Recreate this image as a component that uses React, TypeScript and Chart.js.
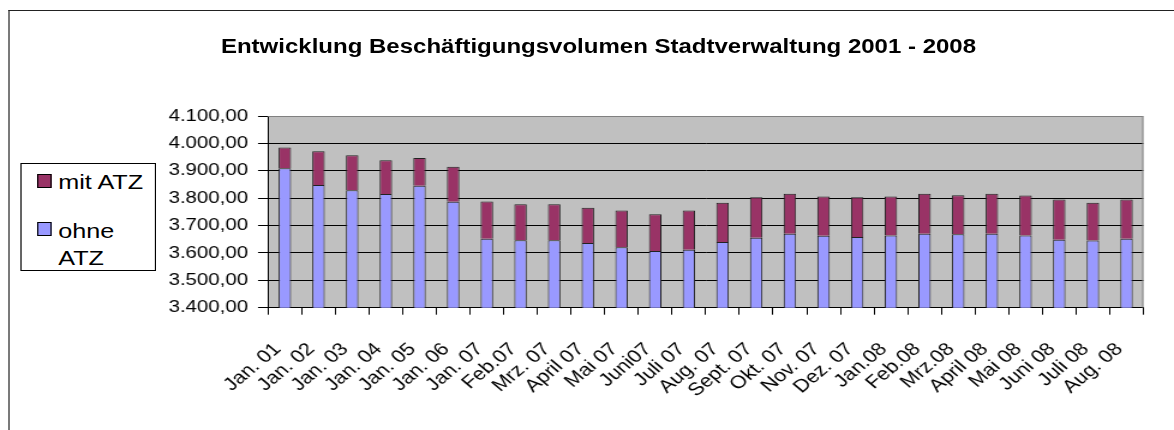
import React, { useEffect, useRef } from "react";
import { Chart, registerables } from "chart.js";

Chart.register(...registerables);

const categories = [
  "Jan. 01", "Jan. 02", "Jan. 03", "Jan. 04", "Jan. 05", "Jan. 06", "Jan. 07",
  "Feb.07", "Mrz. 07", "April 07", "Mai 07", "Juni07", "Juli 07", "Aug. 07",
  "Sept. 07", "Okt. 07", "Nov. 07", "Dez. 07", "Jan.08", "Feb.08", "Mrz.08",
  "April 08", "Mai 08", "Juni 08", "Juli 08", "Aug. 08",
];

const ohneATZ = [
  3909, 3848, 3829, 3815, 3845, 3787, 3652, 3646, 3646, 3636, 3621, 3607, 3612,
  3640, 3655, 3670, 3663, 3658, 3664, 3670, 3668, 3670, 3664, 3648, 3645, 3652,
];

const mitATZ = [
  76, 123, 128, 123, 102, 128, 136, 132, 132, 129, 134, 134, 143,
  143, 148, 146, 143, 145, 142, 146, 143, 146, 146, 147, 138, 143,
];

const yMin = 3400;
const yMax = 4100;
const yStep = 100;

const titleText = "Entwicklung Beschäftigungsvolumen Stadtverwaltung 2001 - 2008";

const FONT = "'Liberation Sans', Arial, sans-serif";

// The original picture is horizontally stretched; reproduce that with a scaleX wrapper.
const PAGE_W = 1174;
const PAGE_H = 430;
const W = 978;
const S = PAGE_W / W;
const px = (v: number) => v / S; // page x -> inner x

function fmt(v: number): string {
  const fixed = v.toFixed(2);
  const [intPart, dec] = fixed.split(".");
  const withDots = intPart.replace(/\B(?=(\d{3})+(?!\d))/g, ".");
  return withDots + "," + dec;
}

const plotBg = {
  id: "plotBg",
  beforeDraw(chart: any) {
    const { ctx, chartArea } = chart;
    ctx.save();
    ctx.fillStyle = "#C0C0C0";
    ctx.fillRect(chartArea.left, chartArea.top, chartArea.right - chartArea.left, chartArea.bottom - chartArea.top);
    ctx.restore();
  },
  beforeDatasetsDraw(chart: any) {
    const { ctx, chartArea } = chart;
    ctx.save();
    ctx.strokeStyle = "#808080";
    ctx.lineWidth = 1;
    ctx.beginPath();
    ctx.moveTo(chartArea.left, chartArea.top + 0.5);
    ctx.lineTo(chartArea.right - 0.5, chartArea.top + 0.5);
    ctx.lineTo(chartArea.right - 0.5, chartArea.bottom);
    ctx.stroke();
    ctx.restore();
  },
};

export default function App() {
  const canvasRef = useRef<HTMLCanvasElement | null>(null);

  useEffect(() => {
    if (!canvasRef.current) return;
    const chart = new Chart(canvasRef.current, {
      type: "bar",
      data: {
        labels: categories,
        datasets: [
          {
            label: "ohne ATZ",
            data: ohneATZ,
            backgroundColor: "#9999FF",
            borderColor: "#222222",
            borderWidth: 1,
            barPercentage: 0.37,
            categoryPercentage: 1,
            stack: "s",
          },
          {
            label: "mit ATZ",
            data: mitATZ,
            backgroundColor: "#993366",
            borderColor: "#222222",
            borderWidth: 1,
            barPercentage: 0.37,
            categoryPercentage: 1,
            stack: "s",
          },
        ],
      },
      options: {
        animation: false,
        responsive: false,
        maintainAspectRatio: false,
        layout: { padding: { left: 0, right: W - px(1158), top: 116, bottom: 0 } },
        plugins: {
          legend: { display: false },
          title: { display: false },
          tooltip: { enabled: false },
        },
        scales: {
          x: {
            stacked: true,
            grid: {
              display: true,
              drawOnChartArea: false,
              offset: true,
              tickLength: 7,
              color: "#000",
              tickColor: "#000",
            },
            border: { display: true, color: "#000", width: 1 },
            ticks: {
              minRotation: 45,
              maxRotation: 45,
              autoSkip: false,
              padding: 24,
              labelOffset: -6,
              color: "#000",
              font: { family: FONT, size: 18 },
            },
            afterFit(scale: any) {
              scale.height = PAGE_H - 307.7;
            },
          },
          y: {
            stacked: true,
            min: yMin,
            max: yMax,
            grid: {
              color: (ctx: any) => (ctx.tick && ctx.tick.value === yMax ? "#808080" : "#000"),
              tickColor: "#000",
              tickLength: px(10),
              lineWidth: 1,
            },
            border: { display: true, color: "#000", width: 1 },
            ticks: {
              stepSize: yStep,
              padding: px(10),
              color: "#000",
              font: { family: FONT, size: 17 },
              callback: (v: any) => fmt(Number(v)),
            },
            afterFit(scale: any) {
              scale.width = px(268);
            },
          },
        },
      },
      plugins: [plotBg],
    });
    return () => chart.destroy();
  }, []);

  return (
    <div style={{ position: "fixed", left: 0, top: 0, width: PAGE_W, height: PAGE_H, background: "#fff", overflow: "hidden" }}>
      <div
        style={{
          position: "absolute",
          left: 0,
          top: 0,
          width: W,
          height: PAGE_H,
          transform: `scaleX(${S})`,
          transformOrigin: "0 0",
          fontFamily: FONT,
          color: "#000",
        }}
      >
        <div style={{ position: "absolute", left: px(8), top: 10, width: 1200, height: 600, borderLeft: "1px solid #222", borderTop: "1px solid #222" }} />
        <canvas ref={canvasRef} width={W} height={PAGE_H} style={{ position: "absolute", left: 0, top: 0, width: W, height: PAGE_H }} />
        <div style={{ position: "absolute", left: 0, width: px(598.5) * 2, top: 36, lineHeight: "20px", textAlign: "center", fontWeight: "bold", fontSize: 20, whiteSpace: "nowrap" }}>
          {titleText}
        </div>
        <div style={{ position: "absolute", left: px(20), top: 163, width: px(136) - 2, height: 106, border: "1px solid #000", background: "#fff", fontSize: 21, whiteSpace: "nowrap" }}>
          <div style={{ position: "absolute", left: px(16), top: 10, width: px(14) - 2, height: 12, background: "#993366", border: "1px solid #000" }} />
          <div style={{ position: "absolute", left: px(37), top: 7, lineHeight: "21px" }}>mit ATZ</div>
          <div style={{ position: "absolute", left: px(16), top: 58, width: px(14) - 2, height: 12, background: "#9999FF", border: "1px solid #000" }} />
          <div style={{ position: "absolute", left: px(37), top: 56, lineHeight: "21px" }}>ohne</div>
          <div style={{ position: "absolute", left: px(37), top: 83, lineHeight: "21px" }}>ATZ</div>
        </div>
      </div>
    </div>
  );
}
